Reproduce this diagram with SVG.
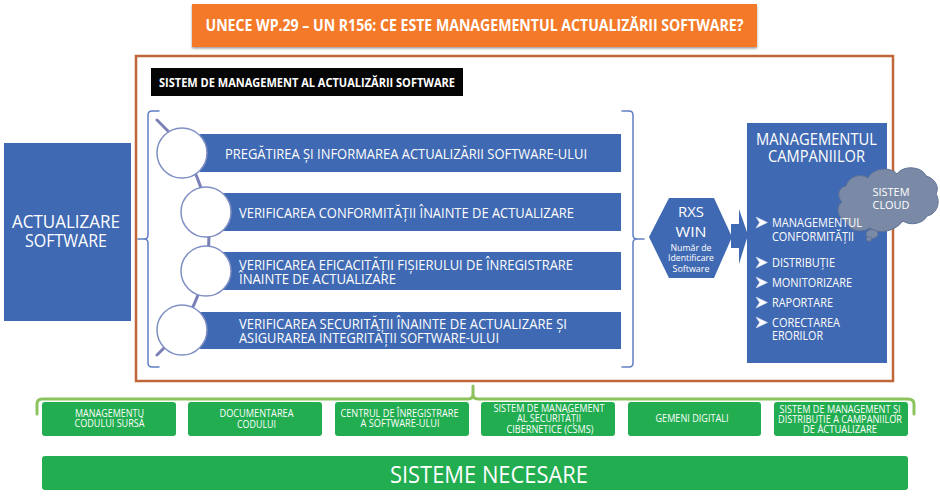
<svg xmlns="http://www.w3.org/2000/svg" width="940" height="504" viewBox="0 0 940 504">
<style>
text{font-family:"Open Sans","Noto Sans","Liberation Sans",sans-serif;fill:#fff}
.b{fill:#4069b3}
.g{fill:#22ad50}
.c{fill:#fff;stroke:#7f8fc4;stroke-width:1.5}
.m{text-anchor:middle}
.band{font-size:14px}
.small{font-size:10.500px;text-anchor:middle;font-weight:500}
.list{font-size:12.500px}
.line{fill:none;stroke-linecap:round}
</style>
<defs>
<filter id="sh" x="-5%" y="-10%" width="110%" height="125%"><feDropShadow dx="0" dy="1.5" stdDeviation="1.2" flood-color="#000" flood-opacity=".4"/></filter>
<path id="chev" d="M0 0L11.500 5.500L0 11L3.500 5.500Z" fill="#fff" stroke="#c9d4ea" stroke-width=".6"/>
</defs>
<rect width="940" height="504" fill="#fff"/>

<g id="title"><rect x="192" y="4" width="565" height="43" fill="#f47a2a" filter="url(#sh)"/>
<text x="474.500" y="31" class="m" font-size="16.500" font-weight="700" textLength="538" lengthAdjust="spacingAndGlyphs">UNECE WP.29 – UN R156: CE ESTE MANAGEMENTUL ACTUALIZĂRII SOFTWARE?</text></g>

<g id="frame"><rect x="136" y="56" width="757" height="325" fill="#fff" stroke="#c1663a" stroke-width="2.500"/></g>

<g id="frame-title"><rect x="151" y="68" width="312" height="28" fill="#050505"/>
<text x="307" y="87" class="m" font-size="12" font-weight="700" textLength="296" lengthAdjust="spacingAndGlyphs">SISTEM DE MANAGEMENT AL ACTUALIZĂRII SOFTWARE</text></g>

<g id="connectors">
<path class="line" stroke="#7a7fb6" stroke-width="3" d="M157 120A159 159 0 0 1 157 355"/>
<path class="line" stroke="#5f7fc4" stroke-width="1.500" d="M159 111H152Q148 111 148 115V235Q148 239 144 239H138M144 239Q148 239 148 243V363Q148 367 152 367H159"/>
<path class="line" stroke="#5f7fc4" stroke-width="1.500" d="M622 111H629Q633 111 633 115V235Q633 239 637 239H644M637 239Q633 239 633 243V363Q633 367 629 367H622"/>
<path class="line" stroke="#8cc35c" stroke-width="3" d="M37 414V404Q37 399 42 399H468Q473 399 473 394V386M473 394Q473 399 478 399H908Q914 399 914 404V414"/>
</g>

<g id="update"><rect class="b" x="4" y="143" width="127" height="178"/>
<text x="66" y="228" class="m" font-size="18" textLength="108" lengthAdjust="spacingAndGlyphs">ACTUALIZARE</text>
<text x="66" y="247" class="m" font-size="18" textLength="82" lengthAdjust="spacingAndGlyphs">SOFTWARE</text></g>

<g id="step1"><rect class="b" x="200" y="134" width="421" height="38"/><circle class="c" cx="182" cy="153" r="25"/>
<text class="band" x="225" y="159" textLength="362" lengthAdjust="spacingAndGlyphs">PREGĂTIREA ȘI INFORMAREA ACTUALIZĂRII SOFTWARE-ULUI</text></g>
<g id="step2"><rect class="b" x="222" y="193" width="399" height="38"/><circle class="c" cx="206" cy="212" r="25"/>
<text class="band" x="239" y="218" textLength="335" lengthAdjust="spacingAndGlyphs">VERIFICAREA CONFORMITĂȚII ÎNAINTE DE ACTUALIZARE</text></g>
<g id="step3"><rect class="b" x="222" y="252" width="399" height="38"/><circle class="c" cx="206" cy="271" r="25"/>
<text class="band" x="239" y="270" textLength="334" lengthAdjust="spacingAndGlyphs">VERIFICAREA EFICACITĂȚII FIȘIERULUI DE ÎNREGISTRARE</text>
<text class="band" x="239" y="284" textLength="157" lengthAdjust="spacingAndGlyphs">ÎNAINTE DE ACTUALIZARE</text></g>
<g id="step4"><rect class="b" x="200" y="312" width="421" height="37"/><circle class="c" cx="182" cy="330" r="25"/>
<text class="band" x="239" y="329" textLength="328" lengthAdjust="spacingAndGlyphs">VERIFICAREA SECURITĂȚII ÎNAINTE DE ACTUALIZARE ȘI</text>
<text class="band" x="239" y="343" textLength="260" lengthAdjust="spacingAndGlyphs">ASIGURAREA INTEGRITĂȚII SOFTWARE-ULUI</text></g>

<g id="rxswin"><polygon class="b" points="649,237 669,198 714,198 732,237 714,278 669,278"/>
<text x="691" y="217" class="m" font-size="15" textLength="26" lengthAdjust="spacingAndGlyphs">RXS</text>
<text x="691" y="237" class="m" font-size="15" textLength="31" lengthAdjust="spacingAndGlyphs">WIN</text>
<text x="691" y="251" class="m" font-size="9" font-weight="500" textLength="41" lengthAdjust="spacingAndGlyphs">Număr de</text>
<text x="691" y="261" class="m" font-size="9" font-weight="500" textLength="46" lengthAdjust="spacingAndGlyphs">Identificare</text>
<text x="691" y="272" class="m" font-size="9" font-weight="500" textLength="37" lengthAdjust="spacingAndGlyphs">Software</text></g>
<g id="arrow"><polygon class="b" points="731,224 739,224 739,209 748,235 739,264 739,248 731,248"/></g>

<g id="campaign"><rect class="b" x="747" y="123" width="140" height="240"/>
<text x="816.500" y="145" class="m" font-size="16.500" textLength="121" lengthAdjust="spacingAndGlyphs">MANAGEMENTUL</text>
<text x="816.500" y="162" class="m" font-size="16.500" textLength="97" lengthAdjust="spacingAndGlyphs">CAMPANIILOR</text></g>

<g id="cloud">
<path fill="#7a8aa6" stroke="#5f7296" stroke-width="1" d="M846 186C849 176 861 173 868 178C873 168 890 166 897 174C903 165 922 166 926 176C934 178 940 186 936 194C941 202 937 214 927 216C923 224 910 226 903 221C895 231 880 235 870 228C860 234 848 230 846 221C838 219 835 207 842 202C836 196 839 187 846 186Z"/>
<ellipse cx="872" cy="234" rx="6" ry="4.500" fill="#7a8aa6" stroke="#5f7296"/>
<ellipse cx="869" cy="239" rx="2.800" ry="2.200" fill="#7a8aa6" stroke="#5f7296"/>
<text x="891" y="196" class="m" font-size="11.500" textLength="37" lengthAdjust="spacingAndGlyphs">SISTEM</text>
<text x="891" y="209" class="m" font-size="11.500" textLength="37" lengthAdjust="spacingAndGlyphs">CLOUD</text>
</g>

<g id="campaign-list">
<use href="#chev" x="756" y="217"/><text class="list" x="772" y="227" textLength="90" lengthAdjust="spacingAndGlyphs">MANAGEMENTUL</text>
<text class="list" x="772" y="241" textLength="82" lengthAdjust="spacingAndGlyphs">CONFORMITĂȚII</text>
<use href="#chev" x="756" y="257"/><text class="list" x="772" y="267" textLength="63" lengthAdjust="spacingAndGlyphs">DISTRIBUȚIE</text>
<use href="#chev" x="756" y="277"/><text class="list" x="772" y="287" textLength="80" lengthAdjust="spacingAndGlyphs">MONITORIZARE</text>
<use href="#chev" x="756" y="297"/><text class="list" x="772" y="307" textLength="61" lengthAdjust="spacingAndGlyphs">RAPORTARE</text>
<use href="#chev" x="756" y="317"/><text class="list" x="772" y="327" textLength="68" lengthAdjust="spacingAndGlyphs">CORECTAREA</text>
<text class="list" x="772" y="340" textLength="51" lengthAdjust="spacingAndGlyphs">ERORILOR</text></g>

<g id="sys1"><rect class="g" x="42" y="402" width="134" height="34" rx="3"/>
<text class="small" x="109.500" y="417" textLength="69" lengthAdjust="spacingAndGlyphs">MANAGEMENTU</text><text class="small" x="109.500" y="427" textLength="70" lengthAdjust="spacingAndGlyphs">CODULUI SURSĂ</text></g>
<g id="sys2"><rect class="g" x="188" y="402" width="134" height="34" rx="3"/>
<text class="small" x="256.500" y="417" textLength="74" lengthAdjust="spacingAndGlyphs">DOCUMENTAREA</text><text class="small" x="256.500" y="428" textLength="39" lengthAdjust="spacingAndGlyphs">CODULUI</text></g>
<g id="sys3"><rect class="g" x="335" y="402" width="134" height="34" rx="3"/>
<text class="small" x="399.500" y="417" textLength="118" lengthAdjust="spacingAndGlyphs">CENTRUL DE ÎNREGISTRARE</text><text class="small" x="400" y="427" textLength="79" lengthAdjust="spacingAndGlyphs">A SOFTWARE-ULUI</text></g>
<g id="sys4"><rect class="g" x="481" y="402" width="134" height="34" rx="3"/>
<text class="small" x="549" y="412" textLength="111" lengthAdjust="spacingAndGlyphs">SISTEM DE MANAGEMENT</text><text class="small" x="549" y="422" textLength="64" lengthAdjust="spacingAndGlyphs">AL SECURITĂȚII</text><text class="small" x="550" y="433" textLength="87" lengthAdjust="spacingAndGlyphs">CIBERNETICE (CSMS)</text></g>
<g id="sys5"><rect class="g" x="628" y="402" width="133" height="34" rx="3"/>
<text class="small" x="692" y="422" textLength="73" lengthAdjust="spacingAndGlyphs">GEMENI DIGITALI</text></g>
<g id="sys6"><rect class="g" x="774" y="402" width="134" height="34" rx="3"/>
<text class="small" x="840" y="413" textLength="121" lengthAdjust="spacingAndGlyphs">SISTEM DE MANAGEMENT ȘI</text><text class="small" x="840" y="423" textLength="124" lengthAdjust="spacingAndGlyphs">DISTRIBUȚIE A CAMPANIILOR</text><text class="small" x="840" y="433" textLength="74" lengthAdjust="spacingAndGlyphs">DE ACTUALIZARE</text></g>
<g id="required"><rect class="g" x="42" y="456" width="866" height="34" rx="3"/>
<text x="489" y="483" class="m" font-size="24.500" textLength="198" lengthAdjust="spacingAndGlyphs">SISTEME NECESARE</text></g>
</svg>
